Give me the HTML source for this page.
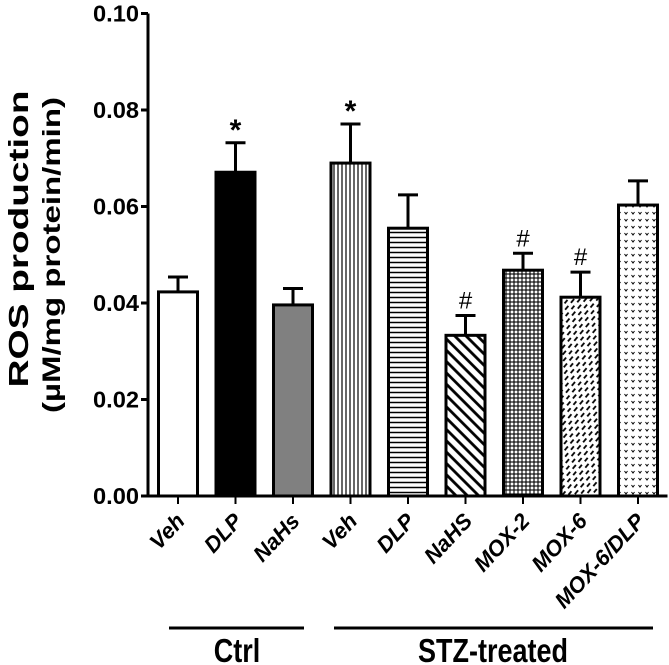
<!DOCTYPE html>
<html><head><meta charset="utf-8"><style>
html,body{margin:0;padding:0;background:#fff;}
svg{display:block;font-family:"Liberation Sans",sans-serif;}
</style></head><body>
<svg id="chart" width="669" height="665" viewBox="0 0 669 665" xmlns="http://www.w3.org/2000/svg">
<defs>
<pattern id="p-vert" width="4" height="4" patternUnits="userSpaceOnUse"><line x1="2" y1="0" x2="2" y2="4" stroke="#000" stroke-width="1.2"/></pattern>
<pattern id="p-horiz" width="5" height="5" patternUnits="userSpaceOnUse"><line x1="0" y1="2.5" x2="5" y2="2.5" stroke="#000" stroke-width="1.5"/></pattern>
<pattern id="p-diag" width="8" height="8" patternUnits="userSpaceOnUse" patternTransform="rotate(-45)"><line x1="4" y1="0" x2="4" y2="8" stroke="#000" stroke-width="2.8"/></pattern>
<pattern id="p-grid" width="4" height="4" patternUnits="userSpaceOnUse"><line x1="2" y1="0" x2="2" y2="4" stroke="#000" stroke-width="1.1"/><line x1="0" y1="2" x2="4" y2="2" stroke="#000" stroke-width="1.1"/></pattern>
<pattern id="p-dash" width="9" height="9" patternUnits="userSpaceOnUse" patternTransform="rotate(-50)"><line x1="0" y1="2" x2="5" y2="2" stroke="#000" stroke-width="1.8"/><line x1="4.5" y1="6.5" x2="9.5" y2="6.5" stroke="#000" stroke-width="1.8"/></pattern>
<pattern id="p-dots" width="7" height="7" patternUnits="userSpaceOnUse"><path d="M1.5 2 L3 4 L4.5 2" fill="none" stroke="#000" stroke-width="1"/></pattern>
</defs>
<g id="axes"></g>
<g id="bars"></g>
<g id="labels"></g>
<text transform="translate(28,239) rotate(-90)" text-anchor="middle" font-weight="bold" font-size="28" textLength="297" lengthAdjust="spacingAndGlyphs">ROS production</text>
<text transform="translate(60,255) rotate(-90)" text-anchor="middle" font-weight="bold" font-size="25" textLength="316" lengthAdjust="spacingAndGlyphs">(µM/mg protein/min)</text>
<line x1="169" y1="628" x2="304" y2="628" stroke="#000" stroke-width="3"/>
<line x1="334" y1="628" x2="653" y2="628" stroke="#000" stroke-width="3"/>
<text transform="translate(237,662) scale(1,1.23)" text-anchor="middle" font-weight="bold" font-size="27">Ctrl</text>
<text transform="translate(493,662) scale(1,1.23)" text-anchor="middle" font-weight="bold" font-size="27">STZ-treated</text>
</svg>
<script>
const categories = ["Veh","DLP","NaHs","Veh","DLP","NaHS","MOX-2","MOX-6","MOX-6/DLP"];
const values = [0.0423,0.0671,0.0396,0.0690,0.0555,0.0333,0.0468,0.0412,0.0603];
const errors = [0.0031,0.0061,0.0034,0.0081,0.0069,0.0041,0.0035,0.0052,0.0050];
const marks = ["","*","","*","","#","#","#",""];
const fills = ["#fff","#000","#808080","url(#p-vert)","url(#p-horiz)","url(#p-diag)","url(#p-grid)","url(#p-dash)","url(#p-dots)"];
const ticks = [0,0.02,0.04,0.06,0.08,0.10];
const tickLabels = ["0.00","0.02","0.04","0.06","0.08","0.10"];

const NS="http://www.w3.org/2000/svg";
const y0=496, yTop=13.5, vmax=0.10;
const xAxis=148, firstX=178, step=57.5, barW=39;
function yScale(v){return y0-(v/vmax)*(y0-yTop);}
function xScale(i){return firstX+i*step;}
function mk(tag,attrs,parent){const e=document.createElementNS(NS,tag);for(const k in attrs)e.setAttribute(k,attrs[k]);parent.appendChild(e);return e;}
const axes=document.getElementById('axes'),bars=document.getElementById('bars'),labels=document.getElementById('labels');

let ya=mk('line',{x1:xAxis,y1:yTop,x2:xAxis,y2:y0+1.5,stroke:'#000','stroke-width':3},axes);


let xa=mk('line',{x1:xAxis-1.5,y1:y0,x2:xScale(categories.length-1)+barW/2+10,y2:y0,stroke:'#000','stroke-width':3},axes);


ticks.forEach((t,i)=>{
  const y=yScale(t);
  const tl=mk('line',{x1:xAxis-7,y1:y,x2:xAxis,y2:y,stroke:'#000','stroke-width':3},axes);
  
  
  const tx=mk('text',{x:xAxis-9,y:y+8,'text-anchor':'end','font-weight':'bold','font-size':23,textLength:46,lengthAdjust:'spacingAndGlyphs'},axes);
  tx.textContent=tickLabels[i];
  
  
});
categories.forEach((c,i)=>{
  const cx=xScale(i), top=yScale(values[i]), et=yScale(values[i]+errors[i]);
  const eb=mk('line',{x1:cx,y1:top,x2:cx,y2:et,stroke:'#000','stroke-width':3},bars);
  
  
  const cap=mk('line',{x1:cx-10,y1:et,x2:cx+10,y2:et,stroke:'#000','stroke-width':3},bars);
  
  
  const r=mk('rect',{x:cx-barW/2,y:top,width:barW,height:y0-top,fill:fills[i],stroke:'#000','stroke-width':3},bars);
  
  
  const tk=mk('line',{x1:cx,y1:y0,x2:cx,y2:y0+8,stroke:'#000','stroke-width':2},axes);
  
  
  if(marks[i]){
    const m=mk('text',{x:cx,y:et-(marks[i]=='*'?3:7),'text-anchor':'middle','font-weight':marks[i]=='*'?'bold':'normal','font-size':marks[i]=='*'?30:24},bars);
    m.textContent=marks[i];
    
    
  }
  const lb=mk('text',{transform:'translate('+(cx+8)+','+(y0+26)+') rotate(-47)','text-anchor':'end','font-weight':'bold','font-style':'italic','font-size':22},labels);
  lb.textContent=c;
  
  
});
</script>
</body></html>
